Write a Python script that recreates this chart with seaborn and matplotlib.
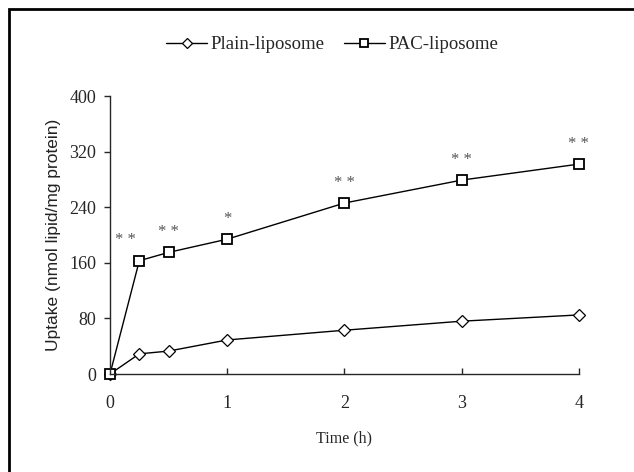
import matplotlib
matplotlib.use("Agg")
import matplotlib.pyplot as plt
import seaborn as sns
import pandas as pd
from matplotlib.patches import Rectangle

time_h = [0, 0.25, 0.5, 1, 2, 3, 4]
plain = [0, 29, 33, 49, 63, 76, 85]
pac = [0, 163, 175, 194, 246, 279, 302]
sig = ["", "**", "**", "*", "**", "**", "**"]
x_ticks = [0, 1, 2, 3, 4]
y_ticks = [0, 80, 160, 240, 320, 400]

sns.set_style("ticks")
plt.rcParams["font.family"] = ["Liberation Serif", "DejaVu Serif"]

fig = plt.figure(figsize=(6.34, 4.72), dpi=100)
ax = fig.add_axes([0.1735, 0.2076, 0.7395, 0.589])

df_plain = pd.DataFrame({"t": time_h, "v": plain})
df_pac = pd.DataFrame({"t": time_h, "v": pac})
sns.lineplot(data=df_plain, x="t", y="v", ax=ax, color="black", lw=1.0,
             marker="D", markersize=6, markerfacecolor="white",
             markeredgecolor="black", markeredgewidth=0.9, label="Plain-liposome",
             clip_on=False)
sns.lineplot(data=df_pac, x="t", y="v", ax=ax, color="black", lw=1.0,
             marker="s", markersize=7.5, markerfacecolor="white",
             markeredgecolor="black", markeredgewidth=1.3, label="PAC-liposome",
             clip_on=False)

for i, (t, v, s) in enumerate(zip(time_h, pac, sig)):
    if not s:
        continue
    dx = -10 if i == 1 else 0
    ax.annotate(" ".join(s), (t, v), xytext=(dx, 9), textcoords="offset points",
                ha="center", va="bottom", fontsize=12, color="#555555")

ax.set_xlim(0, 4)
ax.set_ylim(0, 400)
ax.set_xticks(x_ticks)
ax.set_yticks(y_ticks)
ax.tick_params(axis="x", direction="in", length=4, labelsize=13, pad=15, width=1)
ax.tick_params(axis="y", direction="out", length=4, labelsize=13, pad=6, width=1)
for sp in ["top", "right"]:
    ax.spines[sp].set_visible(False)
for sp in ["left", "bottom"]:
    ax.spines[sp].set_linewidth(1)
ax.set_xlabel("Time (h)", fontsize=11.5, labelpad=13)
ax.set_ylabel("Uptake (nmol lipid/mg protein)", fontsize=12.5, labelpad=6,
              family=["Liberation Sans", "DejaVu Sans"], color="#222222")

ax.get_legend().remove()
h, l = ax.get_legend_handles_labels()
fig.legend(h, l, loc="center", bbox_to_anchor=(0.524, 0.905), ncol=2, frameon=False,
           fontsize=13.5, handlelength=2.2, columnspacing=1.0, handletextpad=0.2,
           markerscale=0.85)

fig.patches.append(Rectangle((9 / 634, -0.1), 1.2, (463 / 472) + 0.1,
                             transform=fig.transFigure, fill=False,
                             edgecolor="black", lw=2, zorder=10))

fig.savefig("out.png", dpi=100)
